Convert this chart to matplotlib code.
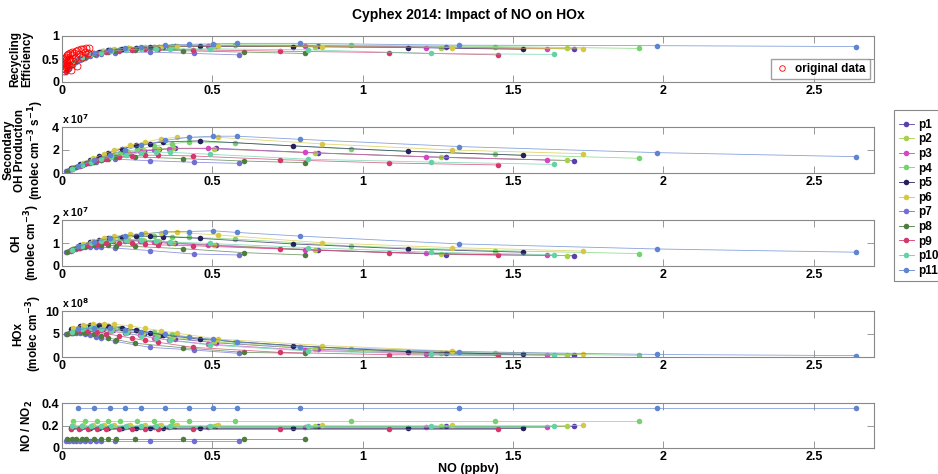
import numpy as np
import matplotlib
matplotlib.use("Agg")
import matplotlib.pyplot as plt
from matplotlib.lines import Line2D
from matplotlib.patches import Rectangle

plt.rcParams['font.family'] = ['Liberation Sans', 'DejaVu Sans']
plt.rcParams['font.weight'] = 'bold'

names = ["p1", "p2", "p3", "p4", "p5", "p6", "p7", "p8", "p9", "p10", "p11"]
colors = ["#5b3fae", "#a6d14a", "#d646c4", "#74d36f", "#26205c", "#d6c845",
          "#6f6fd6", "#4e7d3e", "#d4386b", "#63d2a4", "#5f84d0"]

# NO (ppbv) for each scenario
no_vals = [
    [0.034, 0.068, 0.102, 0.136, 0.170, 0.221, 0.272, 0.324, 0.375, 0.511, 0.852, 1.277, 1.703],
    [0.034, 0.067, 0.101, 0.134, 0.168, 0.218, 0.269, 0.319, 0.369, 0.504, 0.840, 1.259, 1.679],
    [0.032, 0.065, 0.097, 0.129, 0.161, 0.210, 0.258, 0.306, 0.355, 0.484, 0.807, 1.210, 1.613],
    [0.038, 0.077, 0.115, 0.154, 0.192, 0.249, 0.307, 0.365, 0.422, 0.576, 0.960, 1.439, 1.919],
    [0.031, 0.061, 0.092, 0.123, 0.153, 0.199, 0.245, 0.291, 0.337, 0.460, 0.767, 1.150, 1.533],
    [0.035, 0.069, 0.104, 0.138, 0.173, 0.225, 0.277, 0.329, 0.381, 0.519, 0.866, 1.298, 1.731],
    [0.012, 0.023, 0.035, 0.047, 0.059, 0.076, 0.094, 0.112, 0.129, 0.176, 0.293, 0.440, 0.587],
    [0.016, 0.032, 0.048, 0.065, 0.081, 0.105, 0.129, 0.153, 0.178, 0.242, 0.403, 0.605, 0.807],
    [0.029, 0.058, 0.087, 0.116, 0.145, 0.188, 0.232, 0.275, 0.319, 0.435, 0.725, 1.087, 1.449],
    [0.033, 0.065, 0.098, 0.131, 0.164, 0.213, 0.262, 0.311, 0.360, 0.491, 0.818, 1.227, 1.636],
    [0.053, 0.106, 0.158, 0.211, 0.264, 0.343, 0.422, 0.502, 0.581, 0.792, 1.320, 1.980, 2.640],
]

recycling = [
    [0.42, 0.55, 0.62, 0.67, 0.70, 0.73, 0.75, 0.77, 0.78, 0.79, 0.79, 0.76, 0.72],
    [0.42, 0.55, 0.62, 0.67, 0.70, 0.73, 0.75, 0.76, 0.77, 0.78, 0.77, 0.75, 0.73],
    [0.40, 0.54, 0.61, 0.66, 0.69, 0.72, 0.74, 0.76, 0.77, 0.78, 0.78, 0.75, 0.72],
    [0.44, 0.58, 0.64, 0.69, 0.72, 0.75, 0.77, 0.79, 0.80, 0.81, 0.80, 0.77, 0.73],
    [0.40, 0.53, 0.61, 0.66, 0.69, 0.72, 0.74, 0.76, 0.77, 0.78, 0.77, 0.75, 0.71],
    [0.43, 0.56, 0.63, 0.68, 0.71, 0.74, 0.76, 0.77, 0.78, 0.79, 0.77, 0.75, 0.72],
    [0.22, 0.30, 0.37, 0.43, 0.47, 0.52, 0.56, 0.59, 0.61, 0.64, 0.65, 0.62, 0.59],
    [0.26, 0.37, 0.45, 0.51, 0.55, 0.60, 0.63, 0.66, 0.68, 0.70, 0.68, 0.65, 0.62],
    [0.38, 0.51, 0.58, 0.62, 0.65, 0.68, 0.70, 0.71, 0.71, 0.70, 0.67, 0.64, 0.59],
    [0.40, 0.53, 0.60, 0.64, 0.67, 0.70, 0.72, 0.72, 0.72, 0.72, 0.70, 0.62, 0.60],
    [0.50, 0.63, 0.70, 0.74, 0.77, 0.80, 0.82, 0.83, 0.84, 0.84, 0.80, 0.79, 0.77],
]

# secondary OH production, 1e7 molec cm-3 s-1
oh_prod = [
    [0.35, 0.70, 1.00, 1.25, 1.45, 1.70, 1.90, 2.05, 2.15, 2.15, 1.74, 1.36, 1.07],
    [0.40, 0.75, 1.05, 1.30, 1.55, 1.80, 2.00, 2.10, 2.15, 2.10, 1.74, 1.36, 1.10],
    [0.35, 0.70, 1.00, 1.25, 1.45, 1.70, 1.90, 2.00, 2.10, 2.14, 1.79, 1.40, 1.13],
    [0.45, 0.85, 1.20, 1.50, 1.75, 2.05, 2.35, 2.55, 2.70, 2.63, 2.08, 1.62, 1.28],
    [0.40, 0.80, 1.15, 1.45, 1.75, 2.10, 2.40, 2.55, 2.70, 2.80, 2.36, 1.88, 1.54],
    [0.45, 0.90, 1.30, 1.65, 2.00, 2.40, 2.70, 2.97, 3.10, 3.10, 2.53, 2.00, 1.68],
    [0.15, 0.30, 0.45, 0.55, 0.65, 0.80, 0.90, 1.00, 1.10, 1.20, 1.07, 0.93, 0.84],
    [0.20, 0.40, 0.55, 0.70, 0.85, 1.00, 1.15, 1.25, 1.35, 1.40, 1.25, 1.04, 0.90],
    [0.35, 0.65, 0.90, 1.10, 1.25, 1.40, 1.50, 1.55, 1.55, 1.48, 1.16, 0.87, 0.70],
    [0.35, 0.70, 1.00, 1.20, 1.40, 1.60, 1.75, 1.80, 1.80, 1.63, 1.20, 0.95, 0.75],
    [0.60, 1.15, 1.60, 2.00, 2.40, 2.84, 3.10, 3.20, 3.20, 2.93, 2.30, 1.77, 1.42],
]

# OH, 1e7 molec cm-3
oh = [
    [0.70, 0.85, 0.97, 1.05, 1.10, 1.12, 1.10, 1.05, 1.00, 0.90, 0.70, 0.50, 0.45],
    [0.72, 0.88, 1.00, 1.08, 1.12, 1.15, 1.12, 1.08, 1.02, 0.92, 0.70, 0.52, 0.45],
    [0.68, 0.84, 0.96, 1.03, 1.08, 1.10, 1.08, 1.03, 0.98, 0.90, 0.70, 0.55, 0.46],
    [0.72, 0.92, 1.05, 1.15, 1.22, 1.28, 1.30, 1.28, 1.25, 1.17, 0.87, 0.67, 0.54],
    [0.70, 0.90, 1.05, 1.15, 1.22, 1.28, 1.30, 1.30, 1.28, 1.20, 0.96, 0.74, 0.60],
    [0.75, 0.95, 1.10, 1.22, 1.30, 1.38, 1.42, 1.45, 1.46, 1.35, 1.01, 0.80, 0.65],
    [0.60, 0.67, 0.72, 0.76, 0.80, 0.83, 0.84, 0.83, 0.82, 0.78, 0.67, 0.52, 0.48],
    [0.60, 0.70, 0.77, 0.82, 0.86, 0.90, 0.90, 0.90, 0.88, 0.85, 0.75, 0.58, 0.48],
    [0.65, 0.80, 0.90, 0.95, 0.98, 1.00, 0.98, 0.95, 0.92, 0.88, 0.74, 0.58, 0.48],
    [0.70, 0.88, 1.00, 1.08, 1.12, 1.15, 1.13, 1.10, 1.05, 0.98, 0.80, 0.60, 0.49],
    [0.85, 1.05, 1.20, 1.30, 1.38, 1.49, 1.50, 1.53, 1.46, 1.30, 0.96, 0.74, 0.60],
]

# HOx, 1e8 molec cm-3
hox = [
    [5.5, 6.0, 6.2, 6.1, 5.9, 5.5, 5.0, 4.5, 4.0, 3.1, 1.7, 0.80, 0.45],
    [5.7, 6.3, 6.5, 6.4, 6.2, 5.8, 5.3, 4.8, 4.3, 3.3, 1.8, 0.85, 0.45],
    [5.4, 5.9, 6.0, 5.9, 5.6, 5.2, 4.7, 4.2, 3.7, 2.8, 1.5, 0.70, 0.40],
    [5.8, 6.4, 6.6, 6.5, 6.3, 5.9, 5.4, 4.9, 4.4, 3.2, 1.7, 0.80, 0.35],
    [6.0, 6.8, 7.0, 7.0, 6.8, 6.4, 5.9, 5.3, 4.8, 3.85, 2.5, 1.16, 0.55],
    [6.2, 7.0, 7.2, 7.2, 7.1, 6.8, 6.2, 5.7, 5.2, 3.9, 2.5, 1.30, 0.60],
    [5.0, 5.2, 5.3, 5.3, 5.2, 5.0, 4.7, 4.4, 4.1, 3.4, 2.1, 1.50, 0.80],
    [5.1, 5.3, 5.4, 5.4, 5.3, 5.0, 4.6, 4.2, 3.8, 3.0, 2.0, 1.00, 0.80],
    [5.3, 5.6, 5.6, 5.4, 5.1, 4.6, 4.1, 3.6, 3.2, 2.1, 1.0, 0.50, 0.35],
    [5.5, 6.0, 6.2, 6.0, 5.7, 5.2, 4.6, 4.1, 3.6, 2.6, 1.3, 0.60, 0.40],
    [6.0, 6.3, 6.2, 5.9, 5.5, 4.9, 4.3, 3.85, 3.3, 2.25, 1.16, 0.55, 0.30],
]

# NO/NO2 ratio per scenario (constant along each run)
no_no2 = [0.20, 0.20, 0.19, 0.237, 0.178, 0.207, 0.058, 0.082, 0.167, 0.196, 0.36]

# measured recycling efficiency
orig_no = [0.003, 0.004, 0.005, 0.006, 0.007, 0.008, 0.009, 0.010, 0.011, 0.012,
           0.013, 0.014, 0.015, 0.016, 0.018, 0.019, 0.021, 0.022, 0.024, 0.026,
           0.028, 0.030, 0.032, 0.034, 0.037, 0.040, 0.043, 0.046, 0.050, 0.054,
           0.058, 0.062, 0.066, 0.070, 0.075, 0.080, 0.085, 0.090]
orig_eff = [0.30, 0.42, 0.25, 0.50, 0.35, 0.45, 0.28, 0.53, 0.40, 0.33,
            0.55, 0.47, 0.38, 0.58, 0.44, 0.30, 0.60, 0.50, 0.36, 0.62,
            0.48, 0.27, 0.58, 0.66, 0.45, 0.63, 0.52, 0.68, 0.34, 0.70,
            0.60, 0.72, 0.55, 0.71, 0.66, 0.74, 0.62, 0.75]

fig = plt.figure(figsize=(9.38, 4.74), dpi=100)

W, H = 938.0, 474.0
left = 62 / W
width = 812 / W
tops = [36, 127, 220, 311, 403]
bots = [82, 173, 266, 357, 448]

panels = [recycling, oh_prod, oh, hox, None]
ylims = [(0, 1), (0, 4), (0, 2), (0, 10), (0, 0.4)]
yticks = [[0, 0.5, 1], [0, 2, 4], [0, 1, 2], [0, 5, 10], [0, 0.2, 0.4]]
ytlabels = [["0", "0.5", "1"], ["0", "2", "4"], ["0", "1", "2"], ["0", "5", "10"], ["0", "0.2", "0.4"]]
ylabels = ["Recycling\nEfficiency",
           "Secondary\nOH Production\n(molec cm$^{\\mathbf{-3}}$ s$^{\\mathbf{-1}}$)",
           "OH\n(molec cm$^{\\mathbf{-3}}$)",
           "HOx\n(molec cm$^{\\mathbf{-3}}$)",
           "NO / NO$_{\\mathbf{2}}$"]
ylab_x = [21, 24, 26, 28, 27]
multipliers = [None, "x 10$^{\\mathbf{7}}$", "x 10$^{\\mathbf{7}}$", "x 10$^{\\mathbf{8}}$", None]

axes = []
for k in range(5):
    ax = fig.add_axes([left, 1 - bots[k] / H, width, (bots[k] - tops[k]) / H])
    axes.append(ax)
    for i in range(len(names)):
        x = no_vals[i]
        if panels[k] is None:
            y = [no_no2[i]] * len(x)
        else:
            y = panels[k][i]
        ax.plot(x, y, color=colors[i], lw=0.6, alpha=0.75)
        ax.plot(x, y, 'o', color=colors[i], ms=4, mec='none')
    ax.set_xlim(0, 2.7)
    ax.set_ylim(*ylims[k])
    ax.set_xticks([0, 0.5, 1, 1.5, 2, 2.5])
    ax.set_xticklabels(["0", "0.5", "1", "1.5", "2", "2.5"], fontsize=9, fontweight='bold')
    ax.set_yticks(yticks[k])
    ax.set_yticklabels(ytlabels[k], fontsize=9, fontweight='bold')
    ax.tick_params(direction='in', length=5, width=0.6, color='#888888',
                   top=True, right=True, pad=2)
    for s in ax.spines.values():
        s.set_color('#888888')
        s.set_linewidth(0.8)
    fig.text(ylab_x[k] / W, 1 - (tops[k] + bots[k]) / 2 / H, ylabels[k],
             rotation=90, ha='center', va='center', fontsize=8.5,
             fontweight='bold', linespacing=1.0)
    if multipliers[k]:
        ax.text(0.0, 1.03, multipliers[k], transform=ax.transAxes,
                fontsize=7.5, fontweight='bold', va='bottom', ha='left')

# measured data on top panel
axes[0].plot(orig_no, orig_eff, 'o', mfc='none', mec='red', ms=5, mew=0.6)
orig_handle = Line2D([], [], ls='none', marker='o', mfc='none', mec='red', ms=4, mew=0.6)
axes[0].legend([orig_handle], ["original data"], loc='lower right',
               bbox_to_anchor=(0.995, 0.07), frameon=True, fancybox=False,
               edgecolor='#888888', handlelength=1.2, borderpad=0.35, handletextpad=0.5,
               borderaxespad=0, prop={'weight': 'bold', 'size': 8.5})

axes[4].set_xlabel("NO (ppbv)", fontsize=9, fontweight='bold', labelpad=0)

fig.text(468 / W, 1 - 15 / H, "Cyphex 2014: Impact of NO on HOx",
         ha='center', va='center', fontsize=10, fontweight='bold')

# scenario legend, frame drawn by hand so it hugs the entries
handles = [Line2D([], [], color=c, lw=0.6, marker='o', ms=4, mec='none') for c in colors]
fig.legend(handles, names, loc='upper left', bbox_to_anchor=(894 / W, 1 - 114 / H),
           borderaxespad=0, frameon=False,
           handlelength=1.3, labelspacing=0.22, borderpad=0.4, handletextpad=0.35,
           prop={'weight': 'bold', 'size': 8.5})
fig.patches.append(Rectangle((894 / W, 1 - 281 / H), 60 / W, 171 / H,
                             transform=fig.transFigure, fill=False,
                             edgecolor='#888888', lw=0.8))

fig.savefig("out.png", dpi=100)
